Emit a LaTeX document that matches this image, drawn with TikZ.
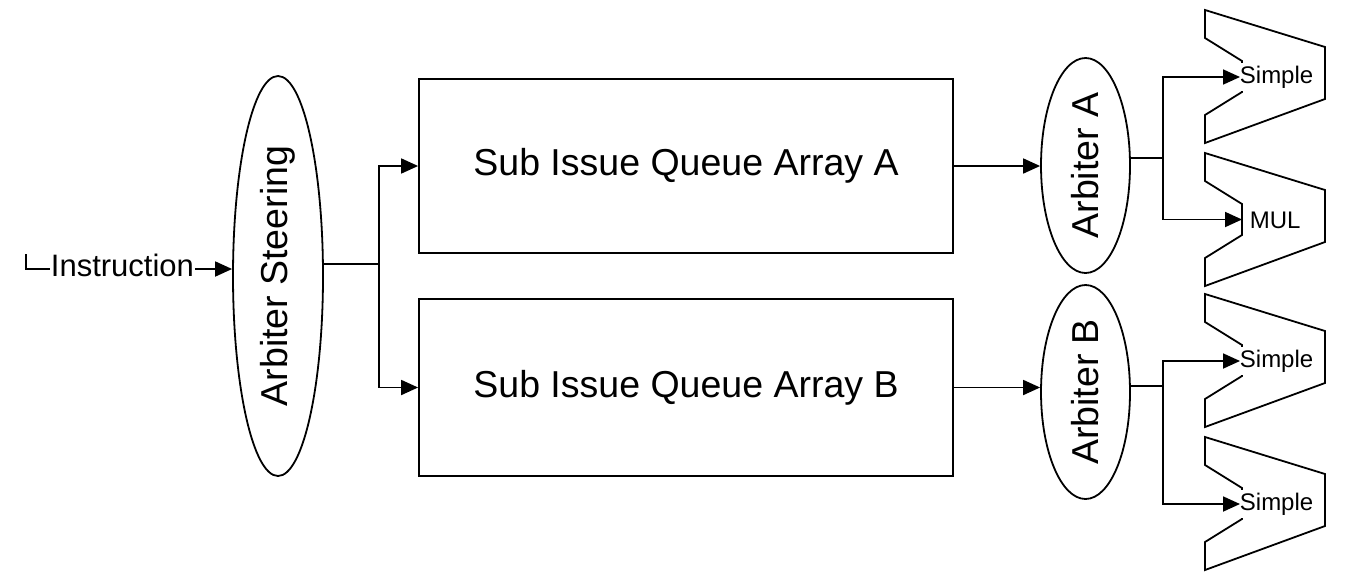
\documentclass[tikz,border=0pt]{standalone}
\usepackage{fontspec}
\setmainfont{Liberation Sans}
\usetikzlibrary{shapes.geometric,arrows.meta}
\begin{document}
\begin{tikzpicture}[x=1pt,y=-1pt,
  line width=1.8pt,
  arr/.style={-{Triangle[length=17pt,width=15pt]}},
  bigtext/.style={font=\fontsize{37.5}{40}\selectfont},
  boxq/.style={draw,fill=white,minimum width=534pt,inner sep=0,bigtext},
  oval/.style={draw,ellipse,fill=white,inner sep=0,bigtext},
  unitshape/.style={draw,fill=white,line join=miter},
  ulabel/.style={font=\fontsize{24}{26}\selectfont,anchor=west}
]
\useasboundingbox (0,0) rectangle (1364,584);

% input
\node[anchor=base west,inner sep=0,font=\fontsize{31}{33}\selectfont] (instr) at (50,276) {Instruction};
\coordinate (pin) at (26,254);
\draw[line width=1.3pt] (pin) |- (instr.west |- 0,269);

% steering
\node[oval,minimum width=90pt,minimum height=400pt] (steer) at (278,276) {\rotatebox{90}{Arbiter Steering}};
\draw[arr] (instr.east |- 0,269) -- (steer.west |- 0,269);

% queues
\node[boxq,minimum height=174pt] (qA) at (686,166) {Sub Issue Queue Array A};
\node[boxq,minimum height=177pt] (qB) at (686,387.5) {Sub Issue Queue Array B};

\draw (steer.east |- 0,264) -- (379,264) coordinate (jS);
\draw[arr] (jS) |- (qA.west);
\draw[arr] (jS) |- (qB.west);

% arbiters
\node[oval,minimum width=89pt,minimum height=215pt] (arbA) at (1085.5,165.5) {\rotatebox{90}{Arbiter A}};
\node[oval,minimum width=89pt,minimum height=214pt] (arbB) at (1085.5,392) {\rotatebox{90}{Arbiter B}};
\draw[arr] (qA.east) -- (qA.east -| arbA.west);
\draw[arr] (qB.east) -- (qB.east -| arbB.west);

% execution units
\foreach \y/\n in {10/u1,153/u2,294/u3,437/u4}{
  \draw[unitshape] (1205,\y) -- ++(120,37) -- ++(0,52) -- (1205,\y+133) -- ++(0,-28)
     -- ++(37,-23) -- ++(0,-31) -- (1205,\y+28) -- cycle;
  \coordinate (\n) at (1242,\y+66.5);
}
\node[ulabel,fill=white,inner sep=3pt] (s1) at (1236,77) {Simple};
\node[ulabel,inner sep=0] (m2) at (1249,220) {MUL};
\node[ulabel,fill=white,inner sep=3pt] (s3) at (1236,361) {Simple};
\node[ulabel,fill=white,inner sep=3pt] (s4) at (1236,504) {Simple};

\draw (arbA.east |- 0,158) -- (1163,158) coordinate (jA);
\draw[arr] (jA) |- ([xshift=4pt]s1.west);
\draw[arr] (jA) |- (u2);
\draw (arbB.east |- 0,386) -- (1163,386) coordinate (jB);
\draw[arr] (jB) |- ([xshift=4pt]s3.west);
\draw[arr] (jB) |- ([xshift=4pt]s4.west);
\end{tikzpicture}
\end{document}
